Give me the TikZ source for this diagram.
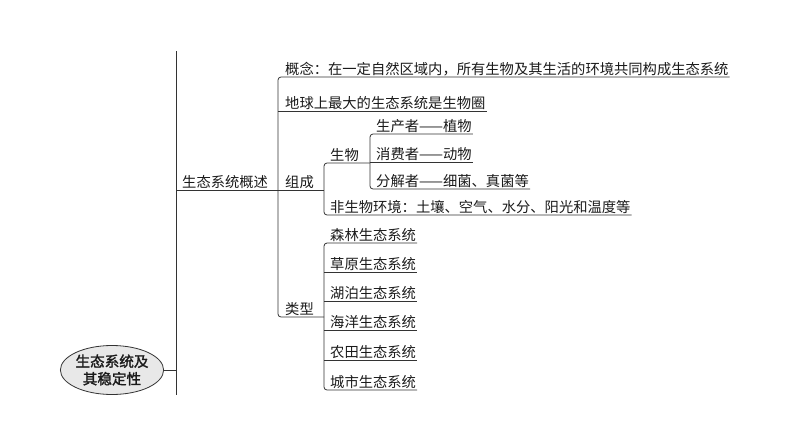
\documentclass[tikz,border=0pt]{standalone}
\usepackage{fontspec}
\newfontfamily\cjk{Noto Sans CJK SC}
\newfontfamily\cjkheavy[FakeBold=1.6]{Noto Sans CJK SC}
\usetikzlibrary{shapes.geometric}
\definecolor{Ink}     {HTML}{1A1A1A}
\definecolor{LineGrey}{HTML}{333333}
\definecolor{RootGrey}{HTML}{E8E8E8}

\tikzset{
  item/.style={anchor=south west, inner sep=1pt, text=Ink,
               font=\cjk\fontsize{14.3}{16}\selectfont},
  branch/.style={line width=0.8pt, LineGrey, rounded corners=3pt},
  rootnode/.style={ellipse, draw=LineGrey, line width=0.8pt, fill=RootGrey,
               minimum width=88pt, minimum height=49pt, inner sep=0pt,
               align=center, text=Ink, font=\cjkheavy\fontsize{14.6}{17.5}\selectfont},
}

\begin{document}
\begin{tikzpicture}[x=1pt, y=-1pt]
  \useasboundingbox (0,0) rectangle (794,447);

  % ===== VERTICAL RAILS =====
  \coordinate (v1) at (176,0);
  \coordinate (v2) at (278,0);
  \coordinate (v3) at (324,0);
  \coordinate (v4) at (370,0);
  \coordinate (mtop) at (176,51);
  \coordinate (mbot) at (176,395);

  % ===== ROOT =====
  \node[rootnode] (root) at (112,370) {生态系统及\\其稳定性};
  \draw[branch] (mtop) -- (mbot);
  \draw[branch] (root.east) -- (root.east -| v1);

  % ===== FIRST LEVEL =====
  \node[item] (gaishu) at (181,190) {生态系统概述};
  \draw[branch] (gaishu.south -| v1) -- (gaishu.south -| v2);

  % ===== SECOND LEVEL =====
  \node[item] (gainian) at (284,77) {概念：在一定自然区域内，所有生物及其生活的环境共同构成生态系统};
  \node[item] (zuida)   at (284,111) {地球上最大的生态系统是生物圈};
  \node[item] (zucheng) at (284,190) {组成};
  \node[item] (leixing) at (284,317) {类型};
  \draw[branch] (gainian.south east) -- (gainian.south -| v2)
        -- (leixing.south -| v2) -- (leixing.south -| v3);
  \draw[branch] (zuida.south -| v2) -- (zuida.south east);
  \draw[branch] (zucheng.south -| v2) -- (zucheng.south -| v3);

  % ===== COMPOSITION =====
  \node[item] (shengwu)  at (329,163) {生物};
  \node[item] (feisheng) at (329,215) {非生物环境：土壤、空气、水分、阳光和温度等};
  \draw[branch] (shengwu.south -| v4) -- (shengwu.south -| v3)
        -- (feisheng.south -| v3) -- (feisheng.south east);

  \node[item] (shengchan) at (375,134) {生产者——植物};
  \node[item] (xiaofei)   at (375,162) {消费者——动物};
  \node[item] (fenjie)    at (375,189) {分解者——细菌、真菌等};
  \draw[branch] (shengchan.south east) -- (shengchan.south -| v4)
        -- (fenjie.south -| v4) -- (fenjie.south east);
  \draw[branch] (xiaofei.south -| v4) -- (xiaofei.south east);

  % ===== TYPES =====
  \foreach \y/\name/\lab in {243/lin/森林, 272/cao/草原, 301/hu/湖泊,
                             330/hai/海洋, 360/nong/农田, 390/cheng/城市}{
    \node[item] (\name) at (329,\y) {\lab 生态系统};
  }
  \draw[branch] (lin.south east) -- (lin.south -| v3)
        -- (cheng.south -| v3) -- (cheng.south east);
  \foreach \name in {cao,hu,hai,nong}{
    \draw[branch] (\name.south -| v3) -- (\name.south east);
  }

\end{tikzpicture}
\end{document}
